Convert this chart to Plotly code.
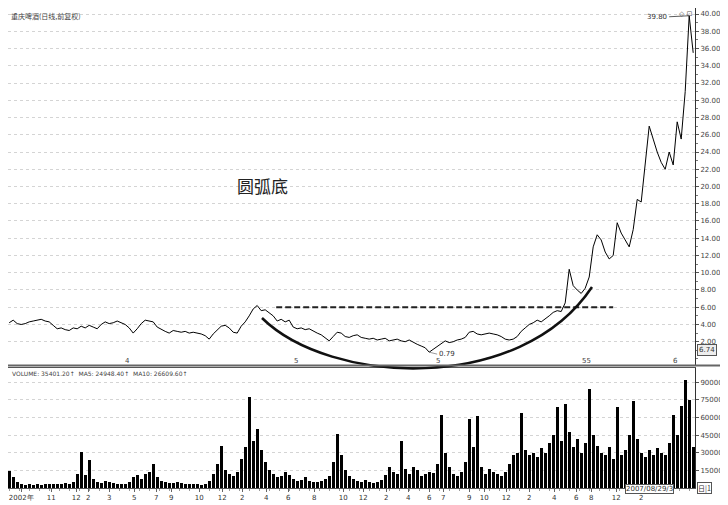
import plotly.graph_objects as go

# ---- data (sampled daily closes, one sample every few trading days) ----
price = [
    4.2, 4.5, 4.1, 4.0, 4.1, 4.3, 4.4, 4.5, 4.6, 4.4,
    4.3, 3.9, 3.5, 3.6, 3.4, 3.3, 3.6, 3.5, 3.8, 3.6,
    3.9, 3.7, 3.5, 4.0, 4.3, 4.1, 4.2, 4.4, 4.2, 4.0,
    3.6, 3.0, 3.5, 4.1, 4.5, 4.4, 4.3, 3.7, 3.4, 3.2,
    3.0, 3.3, 3.2, 3.1, 3.2, 3.0, 3.1, 3.0, 2.9, 2.7,
    2.3, 2.9, 3.4, 3.8, 3.9, 3.6, 3.1, 3.0, 3.8, 4.3,
    5.0, 5.8, 6.2, 5.6, 5.7, 5.4, 5.0, 4.4, 4.6, 4.3,
    4.5, 3.7, 3.5, 3.6, 3.4, 3.5, 3.2, 3.0, 2.8, 2.5,
    2.1, 2.6, 3.1, 3.0, 2.6, 2.5, 2.7, 2.8, 2.5, 2.4,
    2.3, 2.4, 2.2, 2.3, 2.4, 2.1, 2.2, 2.3, 2.1, 2.0,
    2.2, 1.9, 1.7, 1.5, 1.3, 0.79, 1.1, 1.5, 1.8, 2.1,
    1.9, 2.0, 2.2, 2.3, 2.5, 3.1, 3.2, 2.9, 2.8, 2.9,
    3.0, 2.9, 2.8, 2.6, 2.3, 2.2, 2.3, 2.6, 3.2, 3.6,
    4.0, 4.2, 4.5, 4.3, 4.6, 5.0, 5.4, 5.6, 5.5, 6.5,
    10.4, 8.5, 8.0, 7.6, 8.2, 9.5, 13.0, 14.4, 13.8, 12.4,
    11.6, 12.0, 15.8, 14.6, 13.8, 13.0, 15.0, 18.5, 18.2, 22.5,
    27.0, 25.5, 24.0, 22.8, 22.0, 24.0, 22.5, 27.5, 25.5, 31.0,
    39.8, 35.5,
]

volume = [
    14500, 9000, 5000, 3000, 2500, 3000, 2500, 3000, 2800, 3500,
    3000, 3000, 3500, 3000, 4000, 3500, 5000, 12000, 30800, 11000,
    24000, 8000, 5000, 4000, 6000, 5000, 4000, 3500, 3000, 3000,
    5000, 9000, 11000, 8000, 12000, 14000, 20000, 9000, 6000, 5000,
    4500, 4000, 5000, 4000, 3500, 3000, 3500, 3000, 2500, 3000,
    6000, 12000, 20000, 36000, 15000, 12000, 10000, 14000, 25000, 35000,
    77000, 40000, 50000, 32000, 22000, 15000, 12000, 9000, 10000, 14000,
    11000, 8000, 6000, 7000, 9000, 6000, 5000, 5000, 6000, 8000,
    10000, 22000, 46000, 28000, 15000, 10000, 8000, 6000, 5000, 7000,
    5000, 4000, 5000, 7000, 11000, 18000, 14000, 12000, 40000, 16000,
    12000, 18000, 15000, 10000, 12000, 14000, 13000, 20000, 62000, 30000,
    18000, 12000, 10000, 14000, 22000, 59000, 35000, 61000, 18000, 12000,
    16000, 14000, 12000, 10000, 14000, 20000, 28000, 30000, 63500, 32000,
    28000, 30000, 26000, 34000, 30000, 38000, 45000, 69000, 40000, 71000,
    48000, 35000, 42000, 30000, 38000, 84000, 45000, 36000, 30000, 28000,
    35000, 25000, 69000, 28000, 32000, 45000, 73600, 42000, 30000, 26000,
    32000, 28000, 34000, 30000, 28000, 38000, 62000, 45000, 70000, 92000,
    75000, 35000,
]

n = min(len(price), len(volume))
price = price[:n]
volume = volume[:n]
idx = list(range(n))

month_tick_pos = [3, 10.5, 16.75, 19.75, 25, 31.25, 36.75, 40.5, 47.5, 53.25,
                  58.25, 64.25, 69.75, 76.25, 83.5, 88.5, 94.25, 99.75, 105, 108.5,
                  115, 118.75, 124.25, 130, 136.25, 141.75, 145.5, 151.75, 158]
month_tick_text = ["2002年", "11", "12", "2", "3", "5", "7", "9", "10", "12",
                   "2", "4", "6", "8", "10", "12", "2", "4", "6", "7",
                   "9", "10", "12", "2", "4", "6", "8", "12", "2"]

year_mark_pos = [29.5, 71.75, 107.25, 144.25, 166.5]
year_mark_text = ["4", "5", "5", "55", "6"]

price_ticks = [2 * i for i in range(1, 21)]
vol_ticks = [15000, 30000, 45000, 60000, 75000, 90000]

neckline = 6.0
neck_start, neck_end = 66.75, 151

# ---- figure geometry ----
# the page body adds an 8px offset, so the figure is 8px smaller than the window
OFF = 8
W, H = 728 - OFF, 505 - OFF
X0, X1 = 8, 695      # plot area in window pixels
Y0, Y1 = 8, 488
ML, MT = X0 - OFF, Y0 - OFF
MR = W - (X1 - OFF)
MB = H - (Y1 - OFF)
PW, PH = X1 - X0, Y1 - Y0


def px(xs):
    return (xs - X0) / PW


def py(ys):
    return (Y1 - ys) / PH


fig = go.Figure()
fig.add_trace(go.Scatter(x=idx, y=price, mode="lines",
                         line=dict(color="black", width=1), xaxis="x", yaxis="y",
                         hoverinfo="skip"))
fig.add_trace(go.Bar(x=idx, y=volume, marker=dict(color="black", line=dict(width=0)),
                     width=0.85, xaxis="x2", yaxis="y2", hoverinfo="skip"))

axis_font = dict(family="DejaVu Sans", size=7, color="#444")
xr = [-0.3, (X1 - X0) / 4 - 0.3]

fig.update_layout(
    width=W, height=H, margin=dict(l=ML, r=MR, t=MT, b=MB, autoexpand=False),
    paper_bgcolor="white", plot_bgcolor="white", showlegend=False, bargap=0,
    xaxis=dict(domain=[0, 1], range=xr, anchor="y", showticklabels=False,
               showgrid=False, zeroline=False, showline=True, mirror=True,
               linecolor="#777", linewidth=1, ticks=""),
    yaxis=dict(domain=[py(365), 1], range=[-0.7, 40.7], side="right", anchor="x",
               tickvals=price_ticks, ticktext=[f"{v:.2f}" for v in price_ticks],
               tickfont=axis_font, ticks="outside", ticklen=3, tickcolor="#555",
               showgrid=True, gridcolor="#d4d4d4", griddash="dot", gridwidth=1,
               zeroline=False, showline=True, mirror=True, linecolor="#333", linewidth=1,
               minor=dict(ticklen=2, dtick=1, tickcolor="#777", ticks="outside")),
    xaxis2=dict(domain=[0, 1], range=xr, anchor="y2", matches="x",
                tickvals=month_tick_pos, ticktext=month_tick_text,
                tickfont=dict(family="DejaVu Sans", size=7, color="#333"),
                ticks="outside", ticklen=3, tickcolor="#666",
                showgrid=False, zeroline=False, showline=True, mirror=True,
                linecolor="#555", linewidth=1,
                minor=dict(ticklen=2, dtick=2.5, tickcolor="#999", ticks="outside")),
    yaxis2=dict(domain=[0, py(368)], range=[0, 102000], side="right", anchor="x2",
                tickvals=vol_ticks, ticktext=[str(v) for v in vol_ticks],
                tickfont=axis_font, ticks="outside", ticklen=3, tickcolor="#555",
                showgrid=True, gridcolor="#d4d4d4", griddash="dot", gridwidth=1,
                zeroline=False, showline=True, mirror=True, linecolor="#333", linewidth=1),
)

# peak & trough labels from the data
imax = max(idx, key=lambda i: price[i])
imin = min(idx, key=lambda i: price[i])

annotations = [
    dict(x=imax, y=price[imax], xref="x", yref="y", text=f"{price[imax]:.2f}",
         showarrow=True, arrowhead=0, arrowwidth=0.8, arrowcolor="#333",
         ax=-20, ay=1, font=dict(family="DejaVu Sans", size=7, color="#333"),
         xanchor="right"),
    dict(x=imin, y=price[imin], xref="x", yref="y", text=f"{price[imin]:.2f}",
         showarrow=True, arrowhead=0, arrowwidth=0.6, arrowcolor="#555",
         ax=8, ay=2, font=dict(family="DejaVu Sans", size=7, color="#333"),
         xanchor="left"),
    dict(x=px(9), y=py(9), xref="paper", yref="paper", text="重庆啤酒(日线,前复权)",
         showarrow=False, xanchor="left", yanchor="top",
         font=dict(family="Noto Sans CJK SC", size=7, color="#444")),
    dict(x=px(262), y=py(185), xref="paper", yref="paper", text="圆弧底",
         showarrow=False, font=dict(family="Noto Sans CJK SC", size=17, color="#222")),
    dict(x=px(10), y=py(373), xref="paper", yref="paper",
         text="VOLUME: 35401.20↑  MA5: 24948.40↑  MA10: 26609.60↑",
         showarrow=False, xanchor="left", yanchor="middle",
         font=dict(family="DejaVu Sans", size=6, color="#444")),
    dict(x=px(695), y=py(8), xref="paper", yref="paper", text="◇ ⊡",
         showarrow=False, xanchor="right", yanchor="top",
         font=dict(family="DejaVu Sans", size=7, color="#555")),
    dict(x=px(697), y=py(350), xref="paper", yref="paper", text="6.74",
         showarrow=False, xanchor="left", yanchor="middle", bordercolor="#555",
         borderwidth=1, borderpad=1, bgcolor="#eee",
         font=dict(family="DejaVu Sans", size=7, color="#333")),
    dict(x=px(674), y=py(494), xref="paper", yref="paper", text="2007/08/29/3",
         showarrow=False, bordercolor="#555", borderwidth=1, borderpad=0, bgcolor="white",
         font=dict(family="DejaVu Sans", size=7, color="#333")),
    dict(x=px(712), y=py(494), xref="paper", yref="paper", text="日|1",
         showarrow=False, bordercolor="#555", borderwidth=1, borderpad=0, bgcolor="white",
         font=dict(family="Noto Sans CJK SC", size=7, color="#333")),
]
for pos, txt in zip(year_mark_pos, year_mark_text):
    annotations.append(dict(x=pos, y=py(361), xref="x", yref="paper", text=txt,
                            showarrow=False, yanchor="middle",
                            font=dict(family="DejaVu Sans", size=7, color="#444")))
fig.update_layout(annotations=annotations)

# neckline and rounded-bottom arc
p0, c1, c2, p3 = (262, 318), (330, 385), (520, 395), (592, 287)
arc = (f"M {px(p0[0])},{py(p0[1])} C {px(c1[0])},{py(c1[1])} "
       f"{px(c2[0])},{py(c2[1])} {px(p3[0])},{py(p3[1])}")
fig.update_layout(shapes=[
    dict(type="line", xref="x", yref="y", x0=neck_start, x1=neck_end, y0=neckline, y1=neckline,
         line=dict(color="#222", width=2, dash="6px,3px")),
    dict(type="path", xref="paper", yref="paper", path=arc,
         line=dict(color="#111", width=2.5)),
    dict(type="line", xref="paper", yref="paper", x0=0, x1=px(722), y0=py(365.5), y1=py(365.5),
         line=dict(color="#666", width=2)),
])

fig.write_html("out.html")
